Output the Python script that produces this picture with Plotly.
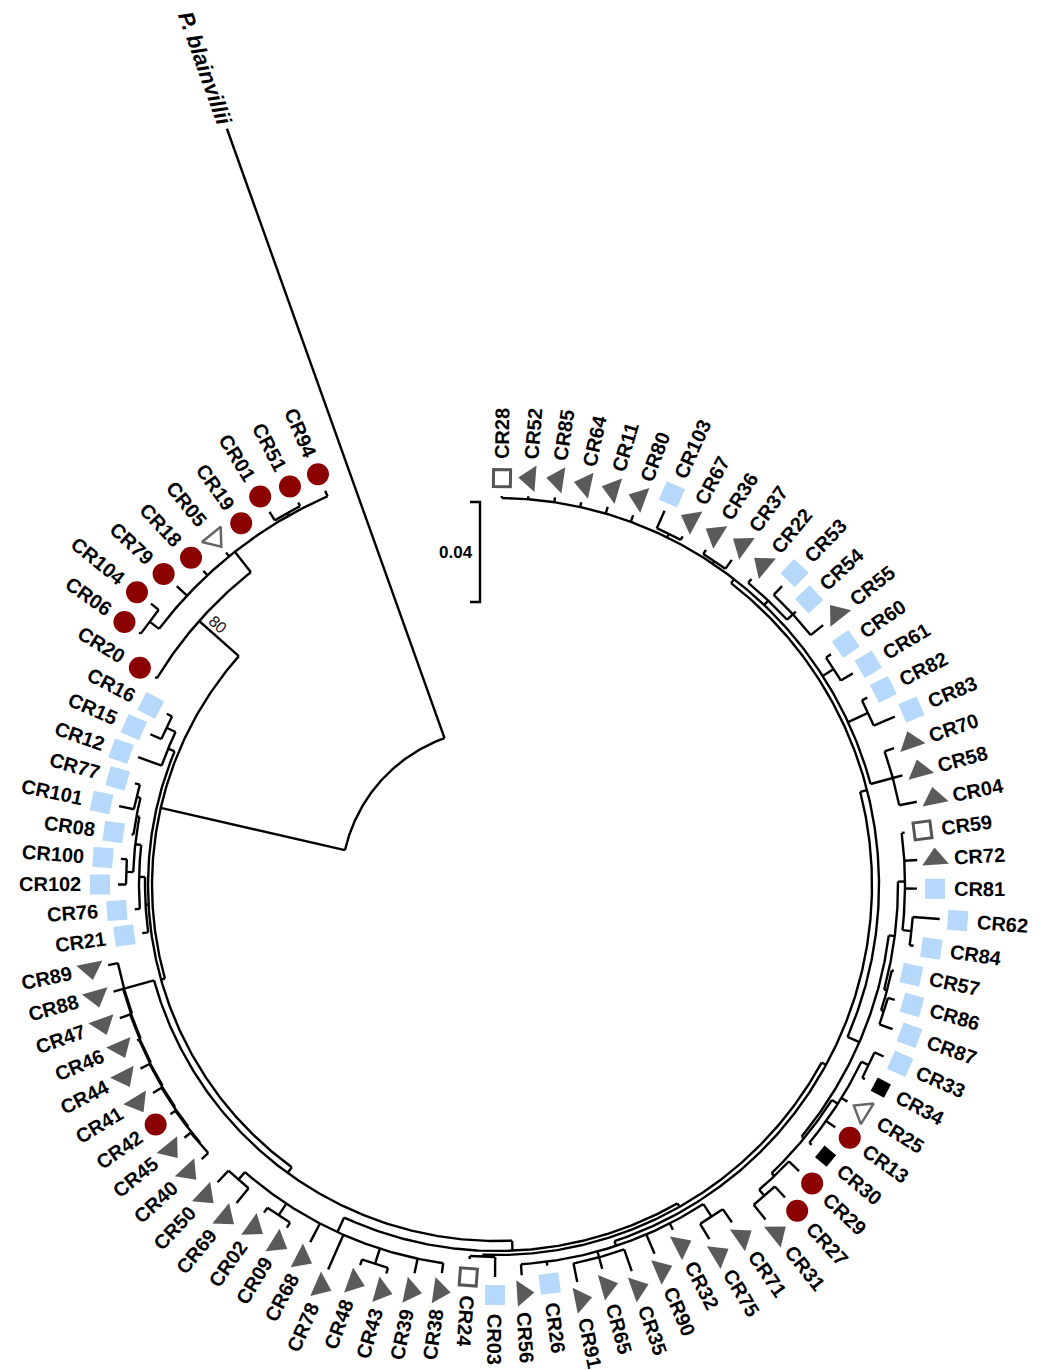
import math
import plotly.graph_objects as go

# ---------------------------------------------------------------- data
# Sub-clades in Newick form. The number after ':' is the node's distance
# from the tree origin (substitutions/site); internal labels are bootstrap values.
X1 = "(CR103:0.1640,CR67:0.1580):0.1564"
X2 = "(CR36:0.1580,CR37:0.1604):0.1560"
X4 = "(CR53:0.1652,CR54:0.1620,CR55:0.1668):0.1604"
X3 = f"(CR22:0.1592,{X4}):0.1572"
X5 = "(CR60:0.1624,CR61:0.1656):0.1600"
X6 = "(CR82:0.1660,CR83:0.1728):0.1636"
X7 = "(CR70:0.1680,CR58:0.1680,CR04:0.1712):0.1640"
TOP = (f"(CR28:0.1556,CR52:0.1560,CR85:0.1568,CR64:0.1568,CR11:0.1576,CR80:0.1576,"
       f"{X1},{X2},{X3},{X5},{X6},{X7}):0.1548")
X9 = "(CR62:0.1776,CR84:0.1684):0.1668"
X8 = f"(CR59:0.1644,CR72:0.1684,CR81:0.1680,{X9}):0.1632"
X11 = "(CR86:0.1656,CR87:0.1684):0.1628"
X10 = f"(CR57:0.1624,{X11}):0.1616"
Q2 = f"({X8},{X10}):0.1604"
BQ1 = "(CR33:0.1692,CR34:0.1664):0.1652"
BQ = f"({BQ1},CR25:0.1648,CR13:0.1664,CR30:0.1632):0.1620"
BO = "(CR27:0.1700,CR31:0.1716):0.1640"
BP = f"(CR29:0.1664,{BO}):0.1608"
BRC = f"({BQ},{BP}):0.1592"
Q = f"({Q2},{BRC}):0.1580"
P = f"({TOP},{Q}):0.1528"
BR1 = "(CR71:0.1644,CR75:0.1652):0.1580"
BR2 = "(CR35:0.1636,CR65:0.1592,CR91:0.1620):0.1544"
BR = f"({BR1},CR32:0.1548,CR90:0.1604,{BR2},CR26:0.1536,CR56:0.1564):0.1520"
P2 = f"({P},{BR}):0.1500"
BN = "(CR03:0.1568,CR24:0.1500):0.1488"
RIGHT = f"({P2},{BN}):0.1480"
BOTTOM = ("(CR38:0.1568,CR39:0.1588,(CR43:0.1616,CR48:0.1616):0.1592,CR78:0.1680,"
          "CR68:0.1612,(CR09:0.1608,CR02:0.1608):0.1584,(CR69:0.1644,CR50:0.1632):0.1568):0.1528")
R2 = f"({RIGHT},{BOTTOM}):0.1464"
LEFT_COMB = ("((((((((CR40:0.1612,CR45:0.1608):0.1576,CR42:0.1596):0.1572,CR41:0.1608):0.1568,"
             "CR44:0.1604):0.1564,CR46:0.1568):0.1560,CR47:0.1600):0.1556,CR88:0.1592):0.1552,"
             "CR89:0.1588):0.1548")
R1 = f"({R2},{LEFT_COMB}):0.1424"
LB = ("(CR21:0.1432,(CR76:0.1452,((CR102:0.1516,CR100:0.1508):0.1484,(CR08:0.1476,"
      "(CR101:0.1544,CR77:0.1504):0.1484):0.1468):0.1456):0.1432):0.1408")
G12 = "(CR12:0.1524,(CR15:0.1512,CR16:0.1488):0.1464):0.1424"
CLADE_B = f"({R1},{LB},{G12}):0.1396"
CLADE_C = ("((CR06:0.1752,CR104:0.1784):0.1744,CR79:0.1752,CR18:0.1720,CR05:0.1716,"
           "CR19:0.1700,(CR01:0.1748,CR51:0.1724):0.1708,CR94:0.1720):0.1696")
CLADE_A = f"(CR20:0.1600,{CLADE_C})80:0.1592"
INGROUP = f"({CLADE_B},{CLADE_A}):0.1380"
TREE = f"({INGROUP},P._blainvillii:0.3212):0.0624"

RED_TIPS = ["CR94", "CR51", "CR01", "CR19", "CR18", "CR79", "CR104", "CR06", "CR20",
            "CR42", "CR13", "CR29", "CR27"]
BLUE_TIPS = ["CR103", "CR53", "CR54", "CR60", "CR61", "CR82", "CR83", "CR81", "CR62",
             "CR84", "CR57", "CR86", "CR87", "CR33", "CR26", "CR03", "CR21", "CR76",
             "CR102", "CR100", "CR08", "CR101", "CR77", "CR12", "CR15", "CR16"]
BLACK_TIPS = ["CR34", "CR30"]
OPEN_SQ_TIPS = ["CR28", "CR59", "CR24"]
OPEN_TRI_TIPS = ["CR05", "CR25"]
OUTGROUP = ["P._blainvillii"]
SCALE_BAR = 0.04

# ---------------------------------------------------------------- layout constants
PX = 0.0004            # substitutions/site per screen pixel
PAGE_OFF = 8           # default body margin of the html page
CX, CY = 497 - PAGE_OFF, 885 - PAGE_OFF   # tree origin inside the figure (px)
W, H = 1045, 1370
FIRST_ANGLE = 89.3     # angle of first tip (deg)
STEP = 3.904           # angle between tips (deg)
SYM_GAP = 18 * PX
LAB_GAP = 19 * PX
FONT = "Liberation Sans, Arial, sans-serif"
FS = 20
LW = 2.4


def parse(s):
    pos = 0

    def node():
        nonlocal pos
        children = []
        if s[pos] == "(":
            pos += 1
            while True:
                children.append(node())
                if s[pos] == ",":
                    pos += 1
                    continue
                pos += 1  # ')'
                break
        start = pos
        while pos < len(s) and s[pos] not in ":,()":
            pos += 1
        name = s[start:pos]
        depth = None
        if pos < len(s) and s[pos] == ":":
            pos += 1
            start = pos
            while pos < len(s) and s[pos] not in ",()":
                pos += 1
            depth = float(s[start:pos])
        return {"name": name, "depth": depth, "children": children}

    return node()


root = parse(TREE)
tips = []


def assign(n):
    if not n["children"]:
        n["ang"] = FIRST_ANGLE - len(tips) * STEP
        tips.append(n)
    else:
        for c in n["children"]:
            assign(c)
        n["ang"] = (n["children"][0]["ang"] + n["children"][-1]["ang"]) / 2


assign(root)


def pol(r, a):
    t = math.radians(a)
    return r * math.cos(t), r * math.sin(t)


lx, ly = [], []
boot = []


def draw(n, parent_depth):
    if parent_depth is not None:
        x0, y0 = pol(parent_depth, n["ang"])
        x1, y1 = pol(n["depth"], n["ang"])
        lx.extend([x0, x1, None])
        ly.extend([y0, y1, None])
    if n["children"]:
        a0 = n["children"][0]["ang"]
        a1 = n["children"][-1]["ang"]
        nseg = max(2, int(abs(a1 - a0) / 0.4) + 1)
        for i in range(nseg + 1):
            x, y = pol(n["depth"], a0 + (a1 - a0) * i / nseg)
            lx.append(x)
            ly.append(y)
        lx.append(None)
        ly.append(None)
        if n["name"]:
            boot.append((n["name"], n["depth"], n["ang"]))
        for c in n["children"]:
            draw(c, n["depth"])


draw(root, None)

fig = go.Figure()
fig.add_trace(go.Scatter(x=lx, y=ly, mode="lines", line=dict(color="black", width=LW),
                         hoverinfo="skip", showlegend=False))


def norm(a):
    return (a + 180) % 360 - 180


styles = {
    "red": dict(symbol="circle", size=22, color="#8b0000", lw=0, rot=lambda a: 0),
    "tri": dict(symbol="triangle-up", size=23, color="#5a5a5a", lw=0, rot=lambda a: -a),
    "blue": dict(symbol="square", size=20, color="#b5d8fb", lw=0, rot=lambda a: -a),
    "black": dict(symbol="square", size=15, color="#000000", lw=0, rot=lambda a: -a),
    "osq": dict(symbol="square-open", size=17, color="#555555", lw=3, rot=lambda a: -a),
    "otri": dict(symbol="triangle-up-open", size=21, color="#666666", lw=2.5,
                 rot=lambda a: -90 - a),
}


def group_of(name):
    if name in RED_TIPS:
        return "red"
    if name in BLUE_TIPS:
        return "blue"
    if name in BLACK_TIPS:
        return "black"
    if name in OPEN_SQ_TIPS:
        return "osq"
    if name in OPEN_TRI_TIPS:
        return "otri"
    if name in OUTGROUP:
        return None
    return "tri"


for g, st in styles.items():
    xs, ys, angs = [], [], []
    for t in tips:
        if group_of(t["name"]) != g:
            continue
        x, y = pol(t["depth"] + SYM_GAP, t["ang"])
        xs.append(x)
        ys.append(y)
        angs.append(st["rot"](norm(t["ang"])))
    fig.add_trace(go.Scatter(
        x=xs, y=ys, mode="markers", hoverinfo="skip", showlegend=False,
        marker=dict(symbol=st["symbol"], size=st["size"], color=st["color"], angle=angs,
                    line=dict(width=st["lw"], color=st["color"]))))

CW = {"C": 0.722, "R": 0.722, "P": 0.667, ".": 0.278, " ": 0.278, "b": 0.611, "l": 0.278,
      "a": 0.556, "i": 0.278, "n": 0.611, "v": 0.556}


def text_w(s, fs):
    return sum(CW.get(ch, 0.556) for ch in s) * fs * PX


ann = []
for t in tips:
    a = norm(t["ang"])
    name = t["name"].replace("_", " ")
    if t["name"] in OUTGROUP:
        fs = 22
        w = text_w(name, fs)
        rc = t["depth"] + 4 * PX + w / 2
        txt = f"<b><i>{name}</i></b>"
    else:
        fs = FS
        w = text_w(name, fs)
        rc = t["depth"] + SYM_GAP + LAB_GAP + w / 2
        txt = f"<b>{name}</b>"
    x, y = pol(rc, a)
    ta = -a if -96 < a < 96 else norm(180 - a)
    ann.append(dict(x=x, y=y, text=txt, showarrow=False, textangle=ta,
                    xanchor="center", yanchor="middle",
                    font=dict(family=FONT, size=fs, color="black")))

for label, d, a in boot:
    a = norm(a)
    x, y = pol(d - 16 * PX, a - 1.5)
    ann.append(dict(x=x, y=y, text=label, showarrow=False, textangle=norm(180 - a),
                    xanchor="center", yanchor="middle",
                    font=dict(family=FONT, size=16, color="#111111")))

# scale bar
sb_x = (480 - 497) * PX
sb_top = (885 - 502) * PX
sb_bot = sb_top - SCALE_BAR
tick = 10 * PX
fig.add_trace(go.Scatter(
    x=[sb_x - tick, sb_x, sb_x, sb_x - tick], y=[sb_top, sb_top, sb_bot, sb_bot],
    mode="lines", line=dict(color="black", width=LW), hoverinfo="skip", showlegend=False))
ann.append(dict(x=sb_x - 5 * PX, y=(sb_top + sb_bot) / 2, text=f"<b>{SCALE_BAR}</b>",
                showarrow=False, xanchor="right", yanchor="middle",
                font=dict(family=FONT, size=17, color="black")))

fig.update_layout(
    width=W, height=H, margin=dict(l=0, r=0, t=0, b=0),
    paper_bgcolor="white", plot_bgcolor="white", showlegend=False,
    annotations=ann,
    xaxis=dict(range=[-CX * PX, (W - CX) * PX], visible=False, fixedrange=True),
    yaxis=dict(range=[-(H - CY) * PX, CY * PX], visible=False, fixedrange=True),
)
fig.write_html("out.html")
